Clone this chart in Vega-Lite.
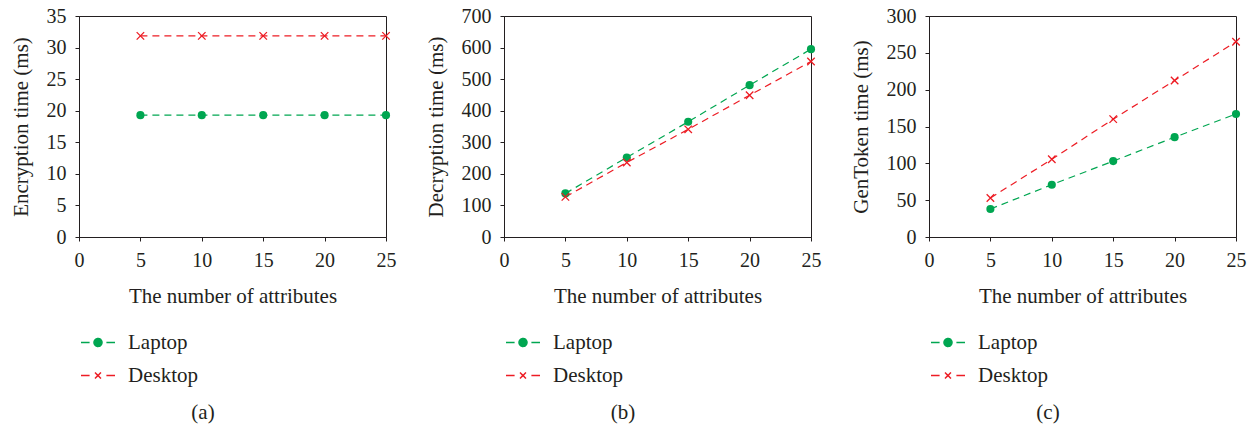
{
  "$schema": "https://vega.github.io/schema/vega-lite/v6.json",
  "background": "white",
  "padding": {"left": 9, "top": 5, "right": 5, "bottom": 5},
  "config": {
    "font": "Liberation Serif",
    "view": {"stroke": "#231f20", "strokeWidth": 1},
    "axis": {
      "grid": false,
      "labelFont": "Liberation Serif",
      "titleFont": "Liberation Serif",
      "labelFontSize": 20,
      "titleFontSize": 21,
      "titleFontWeight": "normal",
      "labelColor": "#231f20",
      "titleColor": "#231f20",
      "domainColor": "#231f20",
      "tickColor": "#231f20",
      "tickSize": 4,
      "labelFlush": false
    },
    "axisX": {"labelPadding": 9, "titlePadding": 15},
    "axisY": {"labelPadding": 9, "titlePadding": 15},
    "title": {"font": "Liberation Serif", "fontSize": 21, "fontWeight": "normal", "color": "#231f20"},
    "legend": {"orient": "none", "legendX": 8.5, "legendY": 316, "direction": "vertical", "title": null, "padding": 0, "labelFont": "Liberation Serif", "labelFontSize": 21, "labelColor": "#231f20", "symbolSize": 64, "symbolStrokeWidth": 1.5, "symbolOpacity": 1, "rowPadding": 11, "labelOffset": 19.5},
    "concat": {"spacing": 27}
  },
  "resolve": {"scale": {"color": "independent"}, "legend": {"color": "independent"}},
  "datasets": {
    "d": [
      {"panel": "a", "attrs": 5, "device": "Laptop", "time": 19.3},
      {"panel": "a", "attrs": 10, "device": "Laptop", "time": 19.3},
      {"panel": "a", "attrs": 15, "device": "Laptop", "time": 19.3},
      {"panel": "a", "attrs": 20, "device": "Laptop", "time": 19.3},
      {"panel": "a", "attrs": 25, "device": "Laptop", "time": 19.3},
      {"panel": "a", "attrs": 5, "device": "Desktop", "time": 31.85},
      {"panel": "a", "attrs": 10, "device": "Desktop", "time": 31.85},
      {"panel": "a", "attrs": 15, "device": "Desktop", "time": 31.85},
      {"panel": "a", "attrs": 20, "device": "Desktop", "time": 31.85},
      {"panel": "a", "attrs": 25, "device": "Desktop", "time": 31.85},
      {"panel": "b", "attrs": 5, "device": "Laptop", "time": 138},
      {"panel": "b", "attrs": 10, "device": "Laptop", "time": 252},
      {"panel": "b", "attrs": 15, "device": "Laptop", "time": 365},
      {"panel": "b", "attrs": 20, "device": "Laptop", "time": 481},
      {"panel": "b", "attrs": 25, "device": "Laptop", "time": 595},
      {"panel": "b", "attrs": 5, "device": "Desktop", "time": 127},
      {"panel": "b", "attrs": 10, "device": "Desktop", "time": 236},
      {"panel": "b", "attrs": 15, "device": "Desktop", "time": 341},
      {"panel": "b", "attrs": 20, "device": "Desktop", "time": 449},
      {"panel": "b", "attrs": 25, "device": "Desktop", "time": 556},
      {"panel": "c", "attrs": 5, "device": "Laptop", "time": 38},
      {"panel": "c", "attrs": 10, "device": "Laptop", "time": 71},
      {"panel": "c", "attrs": 15, "device": "Laptop", "time": 103},
      {"panel": "c", "attrs": 20, "device": "Laptop", "time": 135.5},
      {"panel": "c", "attrs": 25, "device": "Laptop", "time": 167},
      {"panel": "c", "attrs": 5, "device": "Desktop", "time": 53},
      {"panel": "c", "attrs": 10, "device": "Desktop", "time": 105.5},
      {"panel": "c", "attrs": 15, "device": "Desktop", "time": 160},
      {"panel": "c", "attrs": 20, "device": "Desktop", "time": 212.5},
      {"panel": "c", "attrs": 25, "device": "Desktop", "time": 265}
    ]
  },
  "hconcat": [
    {
      "width": 307, "height": 221,
      "data": {"name": "d"},
      "transform": [{"filter": "datum.panel === 'a'"}],
      "title": {"text": "(a)", "orient": "bottom", "anchor": "middle", "frame": "bounds", "offset": 16},
      "encoding": {
        "x": {"field": "attrs", "type": "quantitative", "scale": {"domain": [0, 25]}, "axis": {"values": [0, 5, 10, 15, 20, 25], "title": "The number of attributes"}},
        "y": {"field": "time", "type": "quantitative", "scale": {"domain": [0, 35]}, "axis": {"values": [0, 5, 10, 15, 20, 25, 30, 35], "title": "Encryption time (ms)"}},
        "color": {"field": "device", "type": "nominal", "scale": {"domain": ["Laptop", "Desktop"], "range": ["#00a651", "#ed1c24"]},
          "legend": {"encode": {"symbols": {"update": {
              "shape": {"signal": "datum.value === 'Laptop' ? 'M-4.25,0H-2.1M2.1,0H4.25M-1,0A1,1 0 1,0 1,0A1,1 0 1,0 -1,0' : 'M-4.25,0H-2.1M2.1,0H4.25M-0.75,-0.75L0.75,0.75M-0.75,0.75L0.75,-0.75'"},
              "fill": {"signal": "datum.value === 'Laptop' ? '#00a651' : 'transparent'"},
              "stroke": {"signal": "datum.value === 'Laptop' ? '#00a651' : '#ed1c24'"},
              "strokeDash": {"value": [1, 0]},
              "opacity": {"value": 1}
            }}}}
        }
      },
      "layer": [
        {"mark": {"type": "line", "strokeDash": [7, 5], "strokeWidth": 1.2}},
        {"transform": [{"filter": "datum.device === 'Laptop'"}], "mark": {"type": "point", "shape": "circle", "filled": true, "size": 66, "opacity": 1}},
        {"transform": [{"filter": "datum.device === 'Desktop'"}], "mark": {"type": "point", "shape": "M-1,-1L1,1M1,-1L-1,1", "filled": false, "size": 56, "strokeWidth": 1.3, "opacity": 1}}
      ]
    },
    {
      "width": 307, "height": 221,
      "data": {"name": "d"},
      "transform": [{"filter": "datum.panel === 'b'"}],
      "title": {"text": "(b)", "orient": "bottom", "anchor": "middle", "frame": "bounds", "offset": 16},
      "encoding": {
        "x": {"field": "attrs", "type": "quantitative", "scale": {"domain": [0, 25]}, "axis": {"values": [0, 5, 10, 15, 20, 25], "title": "The number of attributes"}},
        "y": {"field": "time", "type": "quantitative", "scale": {"domain": [0, 700]}, "axis": {"values": [0, 100, 200, 300, 400, 500, 600, 700], "title": "Decryption time (ms)"}},
        "color": {"field": "device", "type": "nominal", "scale": {"domain": ["Laptop", "Desktop"], "range": ["#00a651", "#ed1c24"]},
          "legend": {"encode": {"symbols": {"update": {
              "shape": {"signal": "datum.value === 'Laptop' ? 'M-4.25,0H-2.1M2.1,0H4.25M-1,0A1,1 0 1,0 1,0A1,1 0 1,0 -1,0' : 'M-4.25,0H-2.1M2.1,0H4.25M-0.75,-0.75L0.75,0.75M-0.75,0.75L0.75,-0.75'"},
              "fill": {"signal": "datum.value === 'Laptop' ? '#00a651' : 'transparent'"},
              "stroke": {"signal": "datum.value === 'Laptop' ? '#00a651' : '#ed1c24'"},
              "strokeDash": {"value": [1, 0]},
              "opacity": {"value": 1}
            }}}}
        }
      },
      "layer": [
        {"mark": {"type": "line", "strokeDash": [7, 5], "strokeWidth": 1.2}},
        {"transform": [{"filter": "datum.device === 'Laptop'"}], "mark": {"type": "point", "shape": "circle", "filled": true, "size": 66, "opacity": 1}},
        {"transform": [{"filter": "datum.device === 'Desktop'"}], "mark": {"type": "point", "shape": "M-1,-1L1,1M1,-1L-1,1", "filled": false, "size": 56, "strokeWidth": 1.3, "opacity": 1}}
      ]
    },
    {
      "width": 307, "height": 221,
      "data": {"name": "d"},
      "transform": [{"filter": "datum.panel === 'c'"}],
      "title": {"text": "(c)", "orient": "bottom", "anchor": "middle", "frame": "bounds", "offset": 16},
      "encoding": {
        "x": {"field": "attrs", "type": "quantitative", "scale": {"domain": [0, 25]}, "axis": {"values": [0, 5, 10, 15, 20, 25], "title": "The number of attributes"}},
        "y": {"field": "time", "type": "quantitative", "scale": {"domain": [0, 300]}, "axis": {"values": [0, 50, 100, 150, 200, 250, 300], "title": "GenToken time (ms)"}},
        "color": {"field": "device", "type": "nominal", "scale": {"domain": ["Laptop", "Desktop"], "range": ["#00a651", "#ed1c24"]},
          "legend": {"encode": {"symbols": {"update": {
              "shape": {"signal": "datum.value === 'Laptop' ? 'M-4.25,0H-2.1M2.1,0H4.25M-1,0A1,1 0 1,0 1,0A1,1 0 1,0 -1,0' : 'M-4.25,0H-2.1M2.1,0H4.25M-0.75,-0.75L0.75,0.75M-0.75,0.75L0.75,-0.75'"},
              "fill": {"signal": "datum.value === 'Laptop' ? '#00a651' : 'transparent'"},
              "stroke": {"signal": "datum.value === 'Laptop' ? '#00a651' : '#ed1c24'"},
              "strokeDash": {"value": [1, 0]},
              "opacity": {"value": 1}
            }}}}
        }
      },
      "layer": [
        {"mark": {"type": "line", "strokeDash": [7, 5], "strokeWidth": 1.2}},
        {"transform": [{"filter": "datum.device === 'Laptop'"}], "mark": {"type": "point", "shape": "circle", "filled": true, "size": 66, "opacity": 1}},
        {"transform": [{"filter": "datum.device === 'Desktop'"}], "mark": {"type": "point", "shape": "M-1,-1L1,1M1,-1L-1,1", "filled": false, "size": 56, "strokeWidth": 1.3, "opacity": 1}}
      ]
    }
  ]
}
